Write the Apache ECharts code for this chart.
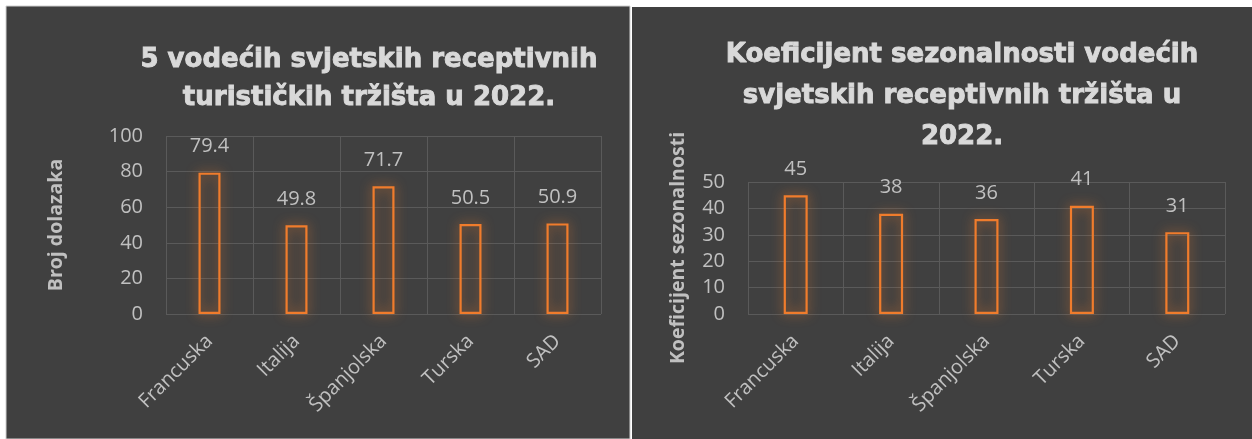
<!DOCTYPE html>
<html>
<head>
<meta charset="utf-8">
<script src="https://cdn.jsdelivr.net/npm/echarts@6/dist/echarts.min.js"></script>
<style>
  html, body { margin: 0; padding: 0; background: #ffffff; }
  #main { width: 1252px; height: 439px; }
</style>
</head>
<body>
<div id="main"></div>
<script>
// podaci
const countries = ['Francuska', 'Italija', 'Španjolska', 'Turska', 'SAD'];
const arrivals = [79.4, 49.8, 71.7, 50.5, 50.9];      // broj dolazaka (mil.)
const seasonality = [45, 38, 36, 41, 31];             // koeficijent sezonalnosti
const arrivalTicks = [0, 100, 20];                    // min, max, interval
const seasonTicks = [0, 50, 10];

const panelBg = '#404040';
const gridColor = '#5a5a5a';
const textColor = '#c0c0c0';
const orange = '#f07c2c';

const chart = echarts.init(document.getElementById('main'));

// naslov je u originalu Arial Black, pa ga malo "podebljamo" obrubom
const titleStyle = (lh) => ({
    color: '#d9d9d9',
    fontFamily: 'DejaVu Sans',
    fontWeight: 'bold',
    fontSize: 26,
    lineHeight: lh,
    textBorderColor: '#d9d9d9',
    textBorderWidth: 0.9
});

const xAxisOf = (gridIndex) => ({
    type: 'category',
    gridIndex: gridIndex,
    data: countries,
    axisLine: { show: false },
    axisTick: { show: false },
    splitLine: { show: true, interval: 0, lineStyle: { color: gridColor, width: 1 } },
    axisLabel: {
        interval: 0,
        rotate: 45,
        margin: 24,
        color: textColor,
        fontFamily: 'Open Sans',
        fontSize: 20
    }
});

const yAxisOf = (gridIndex, ticks, name, gap) => ({
    type: 'value',
    gridIndex: gridIndex,
    min: ticks[0],
    max: ticks[1],
    interval: ticks[2],
    name: name,
    nameLocation: 'middle',
    nameGap: gap,
    nameTextStyle: {
        color: textColor,
        fontFamily: 'Open Sans',
        fontWeight: 'bold',
        fontSize: 19.5
    },
    axisLine: { show: false },
    axisTick: { show: false },
    splitLine: { lineStyle: { color: gridColor, width: 1 } },
    axisLabel: {
        margin: 23,
        color: textColor,
        fontFamily: 'Open Sans',
        fontSize: 20
    }
});

const barSeries = (idx, data, width) => ({
    type: 'bar',
    xAxisIndex: idx,
    yAxisIndex: idx,
    data: data,
    barWidth: width,
    itemStyle: {
        color: 'rgba(0,0,0,0)',
        borderColor: orange,
        borderWidth: 2.2,
        shadowBlur: 12,
        shadowColor: 'rgba(240,124,44,0.85)'
    },
    label: {
        show: true,
        position: 'top',
        distance: 16,
        color: textColor,
        fontFamily: 'Open Sans',
        fontSize: 20
    }
});

const option = {
    backgroundColor: '#ffffff',
    animation: false,
    graphic: [
        { type: 'rect', z: -10, shape: { x: 6, y: 6, width: 624, height: 433 },
          style: { fill: panelBg, stroke: '#d0d0d0', lineWidth: 1 } },
        { type: 'rect', z: -10, shape: { x: 632, y: 7, width: 620, height: 432 },
          style: { fill: panelBg } }
    ],
    title: [
        {
            text: '5 vodećih svjetskih receptivnih\nturističkih tržišta u 2022.',
            left: 369,
            top: 41,
            padding: 0,
            textAlign: 'center',
            textStyle: titleStyle(38)
        },
        {
            text: 'Koeficijent sezonalnosti vodećih\nsvjetskih receptivnih tržišta u\n2022.',
            left: 962,
            top: 35,
            padding: 0,
            textAlign: 'center',
            textStyle: titleStyle(41)
        }
    ],
    grid: [
        { left: 166, top: 136, width: 435, height: 178 },
        { left: 748, top: 182, width: 477, height: 132 }
    ],
    xAxis: [xAxisOf(0), xAxisOf(1)],
    yAxis: [
        yAxisOf(0, arrivalTicks, 'Broj dolazaka', 100),
        yAxisOf(1, seasonTicks, 'Koeficijent sezonalnosti', 60)
    ],
    series: [
        barSeries(0, arrivals, 22),
        barSeries(1, seasonality, 24)
    ]
};

chart.setOption(option);
</script>
</body>
</html>
